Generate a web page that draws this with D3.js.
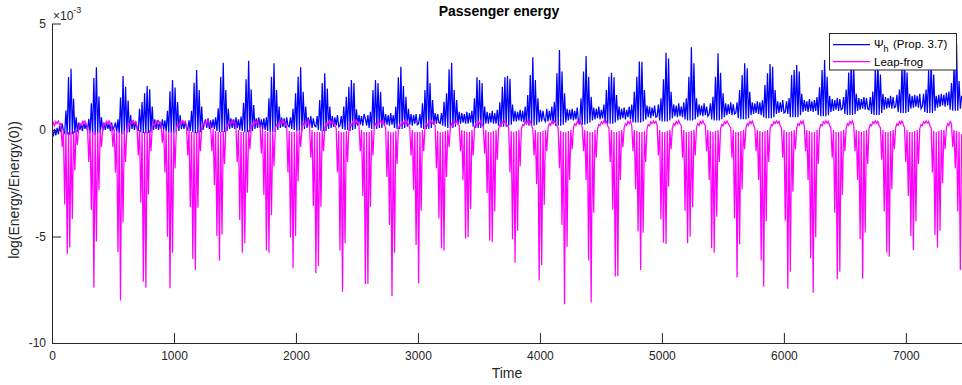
<!DOCTYPE html>
<html>
<head>
<meta charset="utf-8">
<script src="https://cdn.jsdelivr.net/npm/d3@7"></script>
<style>
  html, body { margin: 0; padding: 0; background: #fff; }
  svg { display: block; font-family: "Liberation Sans", Arial, Helvetica, sans-serif; }
  .axis text { font-size: 12px; fill: #262626; }
  .axis path, .axis line { stroke: #262626; }
</style>
</head>
<body>
<svg id="chart" width="962" height="385"></svg>
<script>
// both runs are sampled on the same time grid, values in units of 1e-3
const timeStep = 10.4;

const psiValues = [
  0.0, -0.3, 0.05, -0.25, 0.1, -0.2, 0.2, -0.1, 0.3, -0.05,
  -0.15, 0.91, -0.2, 2.49, -0.25, 2.88, -0.2, 1.47, -0.15, 0.6,
  -0.1, 0.35, 0.0, 0.3, -0.05, 0.4, 0.05, 0.3, -0.05, 0.53,
  -0.15, 1.25, -0.2, 2.44, -0.25, 2.94, -0.2, 1.57, -0.15, 0.6,
  -0.05, 0.35, 0.0, 0.4, 0.05, 0.3, -0.05, 0.35, 0.0, 0.15,
  0.35, -0.1, 0.5, -0.15, 1.53, -0.2, 2.53, -0.2, 2.03, -0.15,
  1.38, -0.1, 0.7, 0.05, 0.45, 0.0, 0.4, 0.1, -0.05, 1.0,
  -0.1, 1.31, -0.15, 1.72, -0.15, 2.07, -0.15, 1.91, -0.1, 1.1,
  0.0, 0.5, 0.05, 0.45, 0.0, 0.4, 0.05, 0.5, 0.0, 0.45,
  -0.05, 0.9, -0.1, 1.82, -0.15, 2.35, -0.15, 2.0, -0.1, 1.31,
  -0.05, 0.7, 0.05, 0.45, 0.05, 0.4, 0.1, 0.0, 0.45, -0.05,   // 100
  0.9, -0.1, 2.22, -0.15, 2.82, -0.15, 1.88, -0.1, 1.1, 0.0,
  0.3, 0.5, 0.1, 0.55, 0.05, 0.45, 0.1, 0.5, 0.05, 0.6,
  -0.05, 1.02, -0.1, 2.5, -0.1, 3.16, -0.1, 1.88, -0.05, 1.0,
  0.05, 0.55, 0.1, 0.5, 0.05, 0.6, 0.1, 0.5, 0.0, 0.63,
  -0.05, 1.28, -0.1, 2.38, -0.1, 3.25, -0.1, 1.9, -0.05, 1.17,
  0.05, 0.55, 0.1, 0.6, 0.1, 0.5, 0.05, 0.55, 0.0, 0.6,
  -0.05, 1.49, -0.1, 2.5, -0.1, 3.13, -0.1, 1.88, 0.0, 1.1,
  0.1, 0.6, 0.15, 0.55, 0.1, 0.6, 0.2, 0.15, 0.6, 0.05,
  1.0, 0.0, 1.72, -0.05, 2.5, -0.05, 2.94, -0.05, 1.8, 0.05,
  1.1, 0.1, 0.6, 0.15, 0.65, 0.1, 0.55, 0.2, 0.15, 0.65,      // 200
  0.0, 1.41, -0.05, 2.2, -0.05, 2.66, -0.05, 1.95, 0.05, 1.1,
  0.1, 0.65, 0.15, 0.6, 0.2, 0.7, 0.15, 0.2, 0.65, 0.05,
  1.1, 0.0, 1.56, 0.0, 2.03, -0.05, 2.35, 0.0, 2.2, 0.05,
  0.97, 0.2, 0.7, 0.25, 0.65, 0.2, 0.75, 0.55, 0.2, 0.7,
  0.1, 0.86, 0.05, 1.88, 0.05, 2.35, 0.05, 2.2, 0.1, 1.8,
  0.1, 1.1, 0.2, 0.75, 0.25, 0.7, 0.2, 0.8, 0.25, 0.7,
  0.1, 1.1, 0.05, 2.47, 0.05, 2.97, 0.05, 2.06, 0.1, 1.56,
  0.15, 1.0, 0.25, 0.75, 0.2, 0.7, 0.3, 0.75, 0.25, 0.3,
  0.75, 0.1, 1.25, 0.05, 1.88, 0.05, 3.21, 0.05, 2.2, 0.1,
  1.41, 0.25, 0.8, 0.3, 0.75, 0.35, 0.3, 0.8, 0.2, 1.33,      // 300
  0.15, 1.72, 0.1, 2.85, 0.1, 3.16, 0.1, 1.88, 0.15, 1.41,
  0.25, 0.85, 0.3, 0.8, 0.35, 0.75, 0.3, 0.85, 0.3, 0.8,
  0.35, 0.9, 0.15, 1.49, 0.1, 2.47, 0.1, 2.35, 0.1, 2.2,
  0.15, 1.1, 0.3, 0.85, 0.3, 0.8, 0.35, 0.9, 0.3, 0.8,
  0.3, 0.95, 0.2, 1.3, 0.15, 2.03, 0.15, 2.47, 0.15, 2.54,
  0.2, 2.4, 0.25, 1.2, 0.4, 0.9, 0.4, 0.85, 0.45, 0.95,
  0.4, 0.9, 0.35, 1.1, 0.25, 1.64, 0.2, 2.58, 0.2, 3.41,
  0.2, 2.35, 0.25, 1.49, 0.35, 0.95, 0.4, 0.9, 0.5, 0.4,
  1.0, 0.4, 0.9, 0.45, 1.1, 0.3, 1.33, 0.2, 2.66, 0.2,
  3.76, 0.2, 2.74, 0.25, 1.72, 0.35, 1.0, 0.45, 0.95, 0.5,    // 400
  1.0, 0.45, 0.9, 0.5, 1.05, 0.35, 0.3, 1.49, 0.25, 2.74,
  0.25, 3.47, 0.3, 2.5, 0.35, 1.56, 0.45, 1.05, 0.5, 1.0,
  0.55, 1.1, 0.5, 0.95, 0.55, 1.2, 0.35, 1.88, 0.3, 2.5,
  0.3, 2.69, 0.3, 2.47, 0.35, 1.64, 0.45, 1.1, 0.5, 1.0,
  0.55, 1.05, 0.5, 0.95, 0.6, 1.1, 0.5, 1.2, 0.35, 1.8,
  0.35, 2.5, 0.35, 3.21, 0.35, 3.2, 0.4, 1.88, 0.5, 1.15,
  0.6, 1.1, 0.55, 1.05, 0.65, 1.15, 0.6, 0.65, 1.2, 0.45,
  1.49, 0.4, 2.38, 0.4, 3.63, 0.4, 3.36, 0.45, 1.8, 0.55,
  1.2, 0.65, 1.15, 0.6, 1.25, 0.65, 1.1, 0.6, 1.3, 0.5,
  1.49, 0.45, 2.5, 0.45, 3.88, 0.45, 3.13, 0.5, 1.49, 0.6,    // 500
  1.2, 0.7, 1.15, 0.65, 1.25, 0.7, 1.1, 0.65, 0.75, 1.25,
  0.5, 1.56, 0.45, 2.5, 0.45, 3.6, 0.45, 2.69, 0.5, 1.72,
  0.6, 1.25, 0.7, 1.2, 0.75, 1.3, 0.7, 1.2, 0.75, 0.8,
  1.3, 0.55, 1.88, 0.5, 2.58, 0.5, 3.13, 0.5, 2.9, 0.55,
  1.8, 0.7, 1.3, 0.75, 1.25, 0.8, 1.35, 0.75, 1.3, 0.7,
  1.4, 0.6, 2.11, 0.55, 2.66, 0.55, 3.1, 0.55, 2.97, 0.6,
  1.88, 0.75, 1.35, 0.8, 1.3, 0.85, 1.4, 0.8, 0.85, 1.35,
  0.75, 1.5, 0.6, 2.58, 0.6, 2.82, 0.6, 3.05, 0.6, 2.74,
  0.7, 1.7, 0.85, 1.4, 0.9, 1.35, 0.85, 1.45, 0.9, 1.35,
  0.85, 1.4, 0.9, 1.55, 0.7, 2.0, 0.65, 2.82, 0.65, 3.29,     // 600
  0.65, 2.5, 0.7, 1.6, 0.85, 1.45, 0.9, 1.4, 0.95, 1.5,
  0.9, 1.45, 0.95, 1.0, 1.55, 0.75, 1.9, 0.7, 2.7, 0.7,
  3.3, 0.7, 2.9, 0.75, 1.7, 0.9, 1.5, 0.95, 1.45, 1.0,
  1.55, 0.95, 1.5, 1.0, 0.95, 1.55, 0.75, 1.8, 0.7, 2.9,
  0.7, 3.35, 0.7, 2.6, 0.8, 1.7, 0.95, 1.55, 1.0, 1.5,
  1.05, 1.6, 1.0, 1.55, 1.05, 1.1, 1.65, 0.85, 1.9, 0.8,
  3.0, 0.8, 3.45, 0.8, 2.7, 0.85, 1.7, 1.0, 1.6, 1.05,
  1.65, 1.1, 1.6, 1.05, 1.7, 1.0, 1.1, 1.7, 0.85, 1.9,
  0.8, 2.8, 0.8, 3.25, 0.8, 2.6, 0.9, 1.6, 1.05, 1.65,
  1.1, 1.7, 1.15, 1.65, 1.1, 1.75, 1.15, 1.8, 0.95, 2.2,      // 700
  0.9, 3.0, 0.9, 4.05, 0.9, 2.3, 1.0, 1.6
];

const leapValues = [
  0.15, 0.35, 0.2, 0.4, 0.3, 0.42, 0.25, 0.3, -0.8, 0.0,
  -3.5, -0.1, -5.82, -0.1, -5.52, -0.1, -4.19, -0.05, -1.9, 0.0,
  -0.7, 0.1, 0.3, 0.22, 0.4, 0.3, 0.42, 0.28, 0.15, -1.5,
  0.0, -3.75, -0.1, -7.4, -0.1, -5.24, -0.1, -2.82, 0.0, -0.8,
  0.1, 0.3, 0.22, 0.4, 0.3, 0.43, 0.3, 0.2, -0.8, 0.05,
  -2.0, -0.05, -5.74, -0.1, -8.01, -0.1, -4.33, -0.05, -1.5, 0.05,
  0.25, 0.2, 0.38, 0.3, 0.43, 0.3, 0.4, 0.2, -1.2, 0.0,
  -3.41, -0.1, -7.12, -0.1, -7.4, -0.1, -3.03, 0.0, -1.0, 0.1,
  0.3, 0.22, 0.4, 0.3, 0.43, 0.32, 0.2, -0.6, 0.05, -2.0,
  -0.05, -5.01, -0.1, -7.43, -0.1, -5.76, -0.05, -1.8, 0.05, 0.25,
  0.2, 0.38, 0.3, 0.43, 0.32, 0.4, 0.2, -1.2, 0.0, -3.63,     // 100
  -0.1, -6.06, -0.1, -6.57, -0.1, -3.65, 0.0, -1.0, 0.1, 0.3,
  0.22, 0.4, 0.3, 0.43, 0.3, 0.2, -1.0, 0.05, -2.58, -0.05,
  -4.98, -0.1, -6.13, -0.1, -4.91, -0.05, -1.6, 0.05, 0.25, 0.2,
  0.38, 0.3, 0.43, 0.32, 0.4, 0.2, -1.5, 0.0, -4.22, -0.1,
  -5.76, -0.1, -5.32, -0.1, -2.94, 0.0, -0.9, 0.1, 0.3, 0.22,
  0.4, 0.3, 0.43, 0.3, 0.2, -1.1, 0.05, -3.05, -0.05, -5.66,
  -0.1, -5.76, -0.1, -4.0, -0.05, -1.7, 0.05, 0.25, 0.2, 0.38,
  0.3, 0.43, 0.32, 0.42, 0.28, 0.15, -2.0, -0.05, -5.05, -0.1,
  -6.49, -0.1, -4.98, -0.05, -2.42, 0.0, -0.8, 0.1, 0.3, 0.22,
  0.4, 0.3, 0.43, 0.2, -1.3, 0.0, -3.57, -0.1, -6.73, -0.1,   // 200
  -6.38, -0.1, -3.6, 0.0, -1.0, 0.1, 0.3, 0.22, 0.4, 0.3,
  0.43, 0.32, 0.4, 0.2, 0.1, -2.0, -0.05, -5.66, -0.1, -7.59,
  -0.1, -5.32, -0.05, -1.5, 0.05, 0.25, 0.2, 0.38, 0.3, 0.43,
  0.3, 0.4, 0.2, -1.0, 0.0, -3.1, -0.1, -7.23, -0.1, -7.23,
  -0.1, -3.6, 0.0, -1.2, 0.1, 0.3, 0.22, 0.4, 0.3, 0.43,
  0.32, 0.42, 0.25, 0.1, -2.2, -0.05, -4.46, -0.1, -7.79, -0.1,
  -5.76, -0.05, -1.6, 0.05, 0.25, 0.2, 0.38, 0.3, 0.43, 0.3,
  0.4, 0.25, 0.1, -1.2, 0.0, -2.82, -0.1, -5.4, -0.1, -7.2,
  -0.1, -3.79, 0.0, -1.0, 0.1, 0.3, 0.22, 0.4, 0.3, 0.43,
  0.32, 0.4, 0.2, -1.8, -0.05, -4.15, -0.1, -5.55, -0.1, -5.66, // 300
  -0.05, -2.2, 0.0, -0.8, 0.1, 0.3, 0.22, 0.4, 0.3, 0.43,
  0.3, 0.2, -1.0, 0.0, -2.35, -0.05, -5.09, -0.1, -5.04, -0.1,
  -3.72, 0.0, -1.2, 0.1, 0.3, 0.22, 0.4, 0.3, 0.43, 0.25,
  0.15, -1.1, 0.0, -2.97, -0.1, -5.2, -0.1, -5.27, -0.05, -3.83,
  0.0, -1.4, 0.05, 0.25, 0.2, 0.38, 0.3, 0.43, 0.32, 0.2,
  0.1, -2.0, -0.05, -5.13, -0.1, -6.23, -0.05, -4.73, 0.0, -1.7,
  0.05, 0.25, 0.2, 0.38, 0.3, 0.43, 0.3, 0.4, 0.2, 0.05,
  -1.2, 0.0, -2.53, -0.1, -7.07, -0.1, -6.34, -0.05, -3.52, 0.0,
  -1.0, 0.1, 0.3, 0.22, 0.4, 0.3, 0.43, 0.32, 0.2, 0.1,
  -1.8, -0.05, -4.46, -0.1, -8.18, -0.1, -5.48, -0.05, -2.35, 0.0, // 400
  -0.9, 0.1, 0.3, 0.22, 0.4, 0.3, 0.43, 0.3, 0.15, -1.0,
  0.0, -2.35, -0.05, -6.13, -0.1, -8.1, -0.1, -3.88, 0.0, -1.3,
  0.05, 0.25, 0.2, 0.38, 0.3, 0.43, 0.32, 0.4, 0.2, 0.1,
  -1.5, 0.0, -3.75, -0.1, -6.88, -0.1, -6.85, -0.05, -2.35, 0.0,
  -0.8, 0.1, 0.3, 0.22, 0.4, 0.3, 0.43, 0.2, -1.0, 0.0,
  -2.78, -0.05, -4.77, -0.1, -6.57, -0.1, -4.82, -0.05, -1.5, 0.05,
  0.25, 0.2, 0.38, 0.3, 0.43, 0.32, 0.4, 0.2, -1.2, 0.0,
  -4.19, -0.1, -5.29, -0.1, -5.35, -0.05, -2.66, 0.0, -0.9, 0.1,
  0.3, 0.22, 0.4, 0.3, 0.43, 0.3, 0.2, -1.3, 0.0, -3.79,
  -0.1, -5.32, -0.1, -5.01, -0.05, -3.63, 0.0, -1.2, 0.1, 0.3, // 500
  0.22, 0.4, 0.3, 0.43, 0.3, 0.2, -1.0, 0.0, -2.35, -0.05,
  -5.55, -0.1, -5.76, -0.05, -4.07, 0.0, -1.5, 0.05, 0.25, 0.2,
  0.38, 0.3, 0.43, 0.32, 0.2, 0.1, -1.3, 0.0, -4.15, -0.1,
  -6.92, -0.1, -5.37, -0.05, -2.78, 0.0, -0.9, 0.1, 0.3, 0.22,
  0.4, 0.3, 0.43, 0.25, 0.1, -1.0, 0.0, -2.35, -0.05, -6.13,
  -0.1, -7.35, -0.05, -4.3, 0.0, -1.5, 0.05, 0.25, 0.2, 0.38,
  0.3, 0.43, 0.32, 0.4, 0.2, 0.1, -1.3, 0.0, -4.26, -0.1,
  -7.45, -0.1, -6.65, -0.05, -2.9, 0.0, -0.9, 0.1, 0.3, 0.22,
  0.4, 0.3, 0.43, 0.2, -1.0, 0.0, -2.35, -0.05, -6.02, -0.1,
  -7.64, -0.1, -5.04, 0.0, -1.6, 0.05, 0.25, 0.2, 0.38, 0.3,  // 600
  0.43, 0.32, 0.4, 0.2, 0.1, -1.3, 0.0, -3.88, -0.1, -7.01,
  -0.1, -6.65, -0.05, -3.05, 0.0, -1.0, 0.1, 0.3, 0.22, 0.4,
  0.3, 0.43, 0.2, -1.0, 0.0, -2.35, -0.05, -5.13, -0.1, -6.98,
  -0.05, -4.82, 0.0, -1.6, 0.05, 0.25, 0.2, 0.38, 0.3, 0.43,
  0.32, 0.4, 0.2, 0.1, -1.4, 0.0, -3.83, -0.1, -5.76, -0.1,
  -5.95, -0.05, -2.78, 0.0, -0.9, 0.1, 0.3, 0.22, 0.4, 0.3,
  0.43, 0.25, 0.1, -1.5, 0.0, -3.1, -0.1, -4.98, -0.1, -5.63,
  -0.05, -4.3, 0.0, -1.6, 0.05, 0.25, 0.2, 0.38, 0.3, 0.43,
  0.32, 0.4, 0.2, 0.1, -2.0, -0.05, -4.93, -0.1, -5.52, -0.05,
  -4.73, 0.0, -2.5, 0.0, -0.9, 0.1, 0.3, 0.22, 0.4, 0.3,      // 700
  -0.8, 0.0, -1.8, -0.05, -3.83, -0.1, -6.57, -0.2
];

const xTicks = [0, 1000, 2000, 3000, 4000, 5000, 6000, 7000];
const yTicks = [-10, -5, 0, 5];
const seriesNames = ['Leap-frog'];
const seriesColors = ['#0000ff', '#ff00ff'];

const svg = d3.select('#chart');
const plotLeft = 52, plotRight = 962, plotTop = 23.5, plotBottom = 343;

const x = d3.scaleLinear().domain([0, 7460]).range([plotLeft, plotRight]);
const y = d3.scaleLinear().domain([-10, 5]).range([plotBottom, plotTop]);

svg.append('defs').append('clipPath').attr('id', 'plot-clip')
  .append('rect').attr('x', plotLeft).attr('y', plotTop - 5)
  .attr('width', plotRight - plotLeft).attr('height', plotBottom - plotTop + 5);

const line = d3.line()
  .x((d, i) => x(i * timeStep))
  .y(d => y(d));

const plot = svg.append('g').attr('clip-path', 'url(#plot-clip)');
plot.append('path').datum(psiValues)
  .attr('d', line).attr('fill', 'none').attr('stroke', seriesColors[0]).attr('stroke-width', 1.25);
plot.append('path').datum(leapValues)
  .attr('d', line).attr('fill', 'none').attr('stroke', seriesColors[1]).attr('stroke-width', 1.25);

// axes, MATLAB style: ticks point inward, no box
svg.append('g').attr('class', 'axis')
  .attr('transform', `translate(0,${plotBottom})`)
  .call(d3.axisBottom(x).tickValues(xTicks).tickSizeInner(-10).tickSizeOuter(0).tickPadding(8.5).tickFormat(d3.format('d')));

svg.append('g').attr('class', 'axis')
  .attr('transform', `translate(${plotLeft},0)`)
  .call(d3.axisLeft(y).tickValues(yTicks).tickSizeInner(-9).tickSizeOuter(0).tickPadding(6).tickFormat(d => d < 0 ? '-' + Math.abs(d) : d));

// exponent
const expo = svg.append('text').attr('x', 53).attr('y', 20).attr('fill', '#262626').style('font-size', '12px');
expo.append('tspan').text('\u00d710');
expo.append('tspan').attr('dy', -7).style('font-size', '9px').text('-3');

svg.append('text')
  .attr('x', 499).attr('y', 16).attr('text-anchor', 'middle')
  .style('font-size', '14px').style('font-weight', 'bold').attr('fill', '#000')
  .text('Passenger energy');

svg.append('text')
  .attr('x', 507).attr('y', 378).attr('text-anchor', 'middle')
  .style('font-size', '14px').attr('fill', '#262626')
  .text('Time');

svg.append('text')
  .attr('transform', 'translate(18.5,190) rotate(-90)')
  .attr('text-anchor', 'middle')
  .style('font-size', '14px').attr('fill', '#262626')
  .text('log(Energy/Energy(0))');

// legend
const lg = svg.append('g');
lg.append('rect').attr('x', 829.5).attr('y', 33.5).attr('width', 127).attr('height', 36.5)
  .attr('fill', '#fff').attr('stroke', '#262626').attr('stroke-width', 1);
lg.append('path').attr('d', 'M833,44.5H870').attr('fill', 'none')
  .attr('stroke', seriesColors[0]).attr('stroke-width', 1.25);
lg.append('path').attr('d', 'M833,61.5H870').attr('fill', 'none')
  .attr('stroke', seriesColors[1]).attr('stroke-width', 1.25);
const l1 = lg.append('text').attr('x', 874).attr('y', 48).attr('fill', '#000').style('font-size', '11.5px');
l1.append('tspan').text('\u03a8');
l1.append('tspan').attr('dy', 4).style('font-size', '9px').text('h');
l1.append('tspan').attr('x', 893).attr('dy', -4).text('(Prop. 3.7)');
lg.append('text').attr('x', 874).attr('y', 65.5).attr('fill', '#000').style('font-size', '11.5px')
  .text(seriesNames[0]);
</script>
</body>
</html>
